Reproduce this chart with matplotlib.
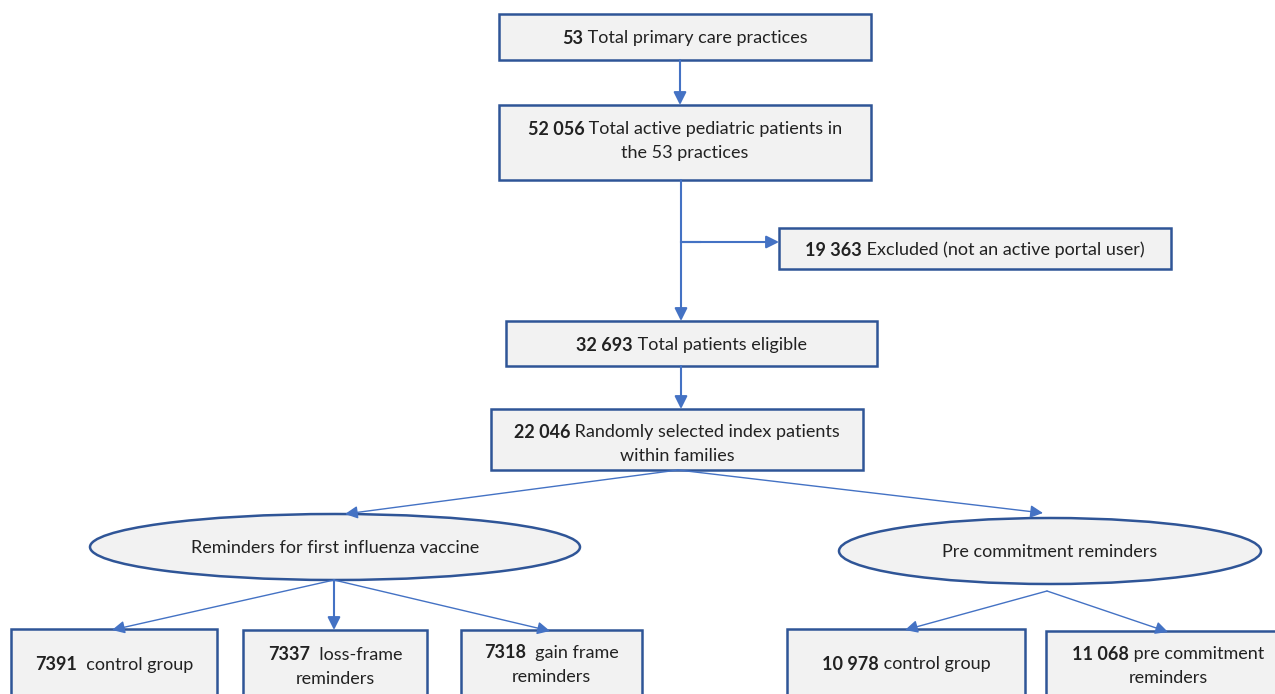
import matplotlib.pyplot as plt
from matplotlib.patches import Rectangle, Ellipse, FancyArrowPatch

plt.rcParams['font.family'] = ['Lato', 'DejaVu Sans']

# node texts: (bold number, rest of line 1, line 2)
numbers = ["53", "52 056", "19 363", "32 693", "22 046",
           "7391", "7337", "7318", "10 978", "11 068"]
line1 = [" Total primary care practices", " Total active pediatric patients in",
         " Excluded (not an active portal user)", " Total patients eligible",
         " Randomly selected index patients", "  control group", "  loss-frame",
         "  gain frame", " control group", " pre commitment"]
line2 = ["", "the 53 practices", "", "", "within families", "", "reminders",
         "reminders", "", "reminders"]
arms = ["Reminders for first influenza vaccine", "Pre commitment reminders"]

# box geometry in pixels: left, top, right, bottom, y of first text line
boxes = [(499, 14, 871, 60, 38), (499, 105, 871, 180, 129),
         (779, 228, 1171, 269, 250), (506, 321, 877, 366, 345),
         (491, 409, 863, 470, 432), (11, 629, 217, 720, 665),
         (243, 630, 427, 720, 655), (461, 630, 642, 720, 653),
         (787, 629, 1025, 720, 664), (1046, 631, 1290, 720, 654)]
ellipses = [(335, 547, 490, 66), (1050, 551, 422, 66)]

EDGE = '#2F5597'
FILL = '#F2F2F2'
ARROW = '#4472C4'
FS = 13

fig = plt.figure(figsize=(12.75, 6.94), dpi=100)
ax = fig.add_axes([0, 0, 1, 1])
ax.set_xlim(0, 1275)
ax.set_ylim(694, 0)
ax.axis('off')
renderer = fig.canvas.get_renderer()


def mixed_line(xc, y, bold, rest):
    tb = ax.text(0, y, bold, fontsize=FS, fontweight='bold', va='center', color='#222222')
    tr = ax.text(0, y, rest, fontsize=FS, va='center', color='#222222')
    inv = ax.transData.inverted()
    def width(t):
        bb = t.get_window_extent(renderer)
        (x0, _), (x1, _) = inv.transform([[bb.x0, bb.y0], [bb.x1, bb.y1]])
        return x1 - x0
    wb, wr = width(tb), width(tr)
    x0 = xc - (wb + wr) / 2
    tb.set_x(x0)
    tr.set_x(x0 + wb)


for i, (l, t, r, b, ty) in enumerate(boxes):
    ax.add_patch(Rectangle((l, t), r - l, b - t, facecolor=FILL, edgecolor=EDGE, lw=1.8))
    xc = (l + r) / 2
    mixed_line(xc, ty, numbers[i], line1[i])
    if line2[i]:
        ax.text(xc, ty + 24, line2[i], fontsize=FS, ha='center', va='center', color='#222222')

for (cx, cy, w, h), label in zip(ellipses, arms):
    ax.add_patch(Ellipse((cx, cy), w, h, facecolor=FILL, edgecolor=EDGE, lw=1.8))
    ax.text(cx, cy + 1, label, fontsize=FS, ha='center', va='center', color='#222222')


def arrow(p0, p1, lw=1.0):
    ax.add_patch(FancyArrowPatch(p0, p1, arrowstyle='-|>', mutation_scale=19,
                                 color=ARROW, lw=lw, shrinkA=0, shrinkB=0))


def line(p0, p1, lw=1.5):
    ax.plot([p0[0], p1[0]], [p0[1], p1[1]], color=ARROW, lw=lw)


arrow((680, 60), (680, 105), 1.5)
arrow((681, 180), (681, 321), 1.5)
line((681, 242), (700, 242))
arrow((681, 242), (779, 242), 1.5)
arrow((681, 366), (681, 409), 1.5)
arrow((678, 470), (345, 514))
arrow((678, 470), (1043, 513))
arrow((334, 580), (112, 630))
arrow((334, 580), (334, 630), 1.5)
arrow((334, 580), (550, 631))
arrow((1047, 591), (905, 630))
arrow((1047, 591), (1168, 632))

fig.savefig('out.png', dpi=100)
